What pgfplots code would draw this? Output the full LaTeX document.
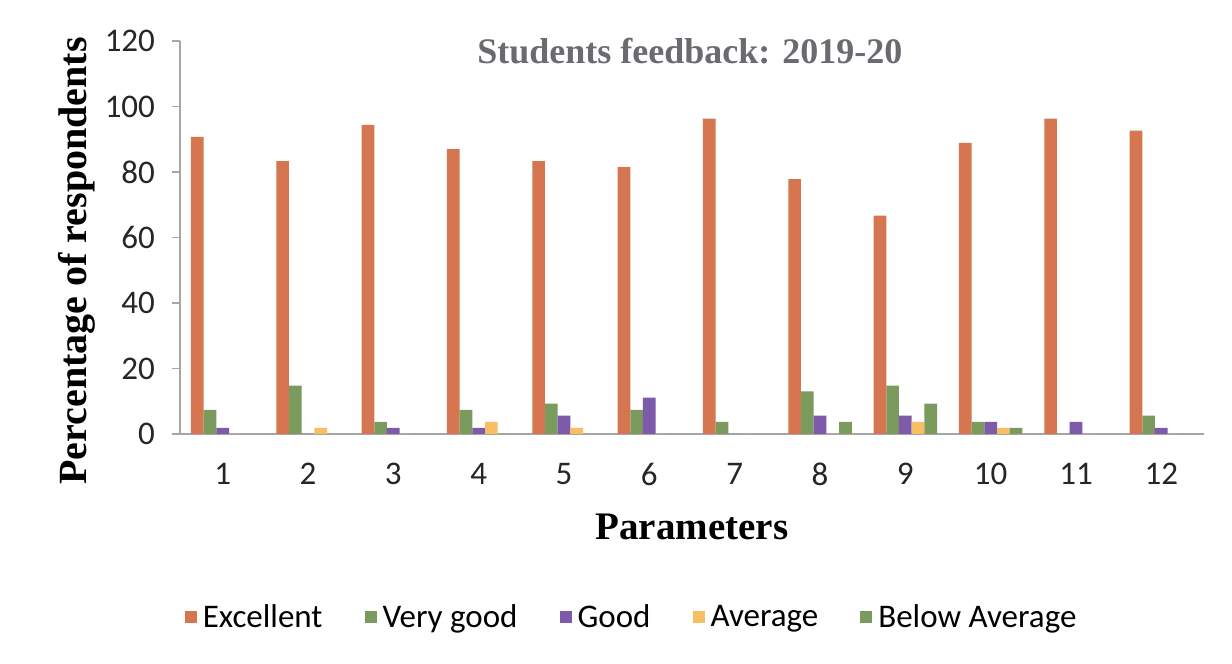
\documentclass[border=0pt]{standalone}
\usepackage{pgfplots}
\pgfplotsset{compat=1.18}
\usepackage{fontspec}
\setmainfont{Carlito}
\newfontfamily\tnr{Liberation Serif}
\definecolor{cExc}{HTML}{D67650}
\definecolor{cVG}{HTML}{7A9A5E}
\definecolor{cGood}{HTML}{7E5AAA}
\definecolor{cAvg}{HTML}{F8BE64}
\definecolor{cBA}{HTML}{7A9A5E}
\definecolor{axgray}{HTML}{A6A6A6}
\definecolor{titlegray}{HTML}{6A6B70}
\begin{document}
\begin{tikzpicture}
\path[use as bounding box, fill=white] (0,0) rectangle (616pt,332pt);
\begin{axis}[
  at={(90pt,115pt)}, anchor=south west,
  scale only axis, width=512pt, height=196.5pt,
  ybar=0pt, bar width=6.35pt,
  xmin=0.5, xmax=12.5, ymin=0, ymax=120,
  axis lines*=left,
  axis line style={axgray, line width=0.6pt},
  xtick={1,...,12},
  x tick style={draw=none},
  extra x ticks={0.5,1.5,...,12.5},
  extra x tick labels={},
  extra x tick style={tick align=outside, major tick length=4pt, tick style={draw=axgray, line width=0.6pt}},
  ytick={0,20,...,120},
  y tick style={draw=axgray, line width=0.6pt},
  tick align=outside, major tick length=4pt,
  /pgf/number format/assume math mode=true,
  tick label style={font=\fontsize{16.5}{19}\selectfont, text=black!85},
  yticklabel style={xshift=-5pt},
  xticklabel style={yshift=-7pt},
  title={\tnr\bfseries Students feedback: 2019-20},
  title style={at={(0.498,0.945)}, anchor=center, font=\fontsize{18}{21}\selectfont, text=titlegray},
  xlabel={\tnr\bfseries Parameters},
  xlabel style={at={(0.5,-0.237)}, anchor=center, font=\fontsize{19.5}{22}\selectfont, text=black},
  ylabel={\tnr\bfseries Percentage of respondents},
  ylabel style={at={(-0.1006,0.44)}, anchor=center, rotate=0, font=\fontsize{20}{23}\selectfont, text=black},
  legend columns=5,
  legend style={at={(0.442,-0.466)}, anchor=center, draw=none, fill=none,
    font=\fontsize{16.5}{19}\selectfont,
    /tikz/every even column/.append style={column sep=19pt}},
  legend image code/.code={\fill[#1] (0pt,-3pt) rectangle (6pt,3pt);},
  legend style={/tikz/every odd column/.append style={column sep=1pt}},
  legend cell align=left,
]
\addplot[fill=cExc, draw=none] coordinates {(1,90.7) (2,83.3) (3,94.4) (4,87.0) (5,83.3) (6,81.5) (7,96.3) (8,77.8) (9,66.7) (10,88.9) (11,96.3) (12,92.6)};
\addplot[fill=cVG, draw=none] coordinates {(1,7.4) (2,14.8) (3,3.7) (4,7.4) (5,9.3) (6,7.4) (7,3.7) (8,13.0) (9,14.8) (10,3.7) (11,0) (12,5.6)};
\addplot[fill=cGood, draw=none] coordinates {(1,1.9) (2,0) (3,1.9) (4,1.9) (5,5.6) (6,11.1) (7,0) (8,5.6) (9,5.6) (10,3.7) (11,3.7) (12,1.9)};
\addplot[fill=cAvg, draw=none] coordinates {(1,0) (2,1.9) (3,0) (4,3.7) (5,1.9) (6,0) (7,0) (8,0) (9,3.7) (10,1.9) (11,0) (12,0)};
\addplot[fill=cBA, draw=none] coordinates {(1,0) (2,0) (3,0) (4,0) (5,0) (6,0) (7,0) (8,3.7) (9,9.3) (10,1.9) (11,0) (12,0)};
\legend{Excellent, Very good, Good, Average, Below Average}
\end{axis}
\end{tikzpicture}
\end{document}
